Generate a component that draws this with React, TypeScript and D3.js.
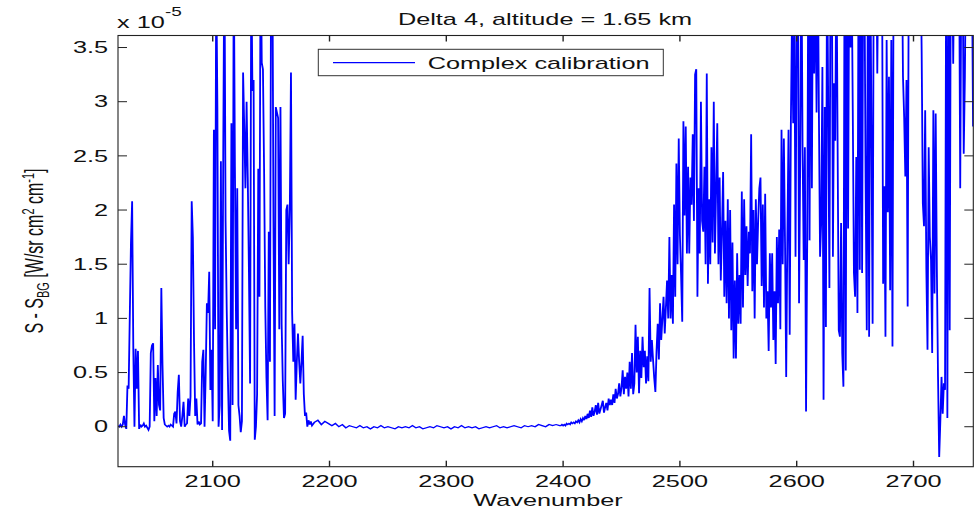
import React from "react";
import * as d3 from "d3";

// Spectrum values (x 1e-5 W/sr cm^2 cm^-1), by wavenumber segment
const startA = 2019;
const stepA = 1;
const valuesA = [
  0.01, 0.0, 0.02, 0.0, 0.02, 0.1, 0.02, -0.02, 0.38, 0.35,
  1.03, 1.7, 2.08, 0.72, 0.0, 0.72, 0.35, 0.7, -0.02, 0.02,
  0.0, 0.01, 0.03, 0.0, 0.01, -0.01, -0.03, 0.0, 0.68, 0.75,
  0.77, 0.05, 0.45, 0.1, 0.57, 0.2, 0.15, 1.28, 0.57, 0.08,
  0.02, 0.01, 0.0, 0.01, 0.0, 0.02, 0.01, 0.0, 0.12, 0.14,
  0.03, 0.32, 0.48, 0.05, 0.0, 0.1, 0.23, 0.0, 0.02, 0.03,
  0.26, 0.1, 0.28, 2.08, 1.75, 0.78, 0.1, 0.26, 0.02, 0.05,
  0.02, 0.03, 0.6, 0.71, 0.0, 0.5, 1.14, 1.05, 1.43, 0.34,
  0.71, 0.05, 2.74, 0.9, 4.2, 2.94, 0.0, 0.2, 2.45, -0.03,
  2.5, 4.5, 1.9, 1.07, 0.45, -0.04, -0.13, 2.8, 0.2, 4.4,
  2.4, 0.9, 2.2, 0.2, 0.1, -0.05, 0.05, 3.27, 2.76, 2.2,
  3.0, 2.3, 1.44, 0.4, 4.3, 3.1, 3.2, -0.12, 0.0, 0.3,
  2.38, 1.2, 4.5, 3.36, 3.3, 2.35, 1.1, 0.45, 0.06, 1.8,
  0.6, 4.4, 4.6, 1.9, 0.1, 2.95, 2.9, 2.85, 0.9, 2.95,
  0.95, 0.42, 0.08, 0.12, 2.0, 2.05, 1.5, 2.0, 3.27, 1.05,
  0.6, 0.95, 0.25, 0.6, 0.86, 0.6, 0.4, 0.6, 0.84, 0.3,
  0.1, 0.13, 0.0, 0.06, 0.02, 0.05, 0.01,
];

const startB = 2187;
const stepB = 3;
const valuesB = [
  0.04, 0.06, 0.02, 0.05, 0.03, 0.01, 0.03, 0.0, 0.02, -0.01,
  0.01, 0.0, -0.01, 0.01, -0.01, 0.0, -0.02, 0.0, -0.01, 0.01,
  -0.01, 0.0, -0.01, -0.02, 0.0, -0.01, 0.0, -0.01, 0.01, -0.01,
  0.0, -0.02, -0.01, 0.0, -0.01, 0.01, 0.0, -0.01, 0.0, -0.02,
  0.0, -0.01, 0.01, -0.01, 0.0, -0.01, 0.0, -0.02, -0.01, 0.0,
  -0.01, 0.0, 0.01, -0.01, 0.0, -0.01, 0.0, 0.01, 0.0, -0.01,
  0.01, 0.0, 0.01, 0.0, 0.02, 0.01, 0.0, 0.02, 0.01, 0.02,
  0.01,
];

const startC = 2398;
const stepC = 1;
const valuesC = [
  0.01, 0.02, 0.01,
  0.02, 0.01, 0.03, 0.02, 0.03, 0.02, 0.04, 0.03, 0.04, 0.03,
  0.05, 0.04, 0.06, 0.04, 0.07, 0.05, 0.08, 0.06, 0.1, 0.07,
  0.12, 0.08, 0.15, 0.09, 0.18, 0.1, 0.14, 0.2, 0.11, 0.22,
  0.12, 0.16, 0.2, 0.24, 0.13, 0.18, 0.22, 0.15, 0.26, 0.2,
  0.25, 0.2, 0.3, 0.22, 0.35, 0.26, 0.3, 0.4, 0.28, 0.36,
  0.52, 0.3, 0.46, 0.35, 0.5, 0.28, 0.6, 0.35, 0.68, 0.3,
  0.4, 0.94, 0.5, 0.83, 0.31, 0.7, 0.45, 0.83, 0.55, 0.7,
  0.4, 0.65, 0.42, 1.28, 0.6, 0.8, 0.62, 0.45, 0.32, 0.7,
  0.95, 0.62, 1.14, 0.8, 1.0, 1.2, 0.86, 1.1, 1.35, 1.0,
  1.75, 1.0, 1.4, 0.95, 2.05, 1.2, 2.43, 1.5, 2.66, 1.77,
];

const startD = 2501;
const stepD = 1;
const valuesD = [
  1.4, 0.97, 2.82, 1.95, 2.77, 1.6, 2.4, 1.6, 2.3, 2.05,
  2.7, 1.9, 3.25, 3.3, 1.2, 2.2, 1.6, 3.0, 1.9, 1.8,
  2.4, 1.5, 3.26, 1.32, 2.1, 1.5, 2.58, 1.7, 3.0, 1.6,
  2.2, 2.8, 1.5, 2.3, 1.35, 1.8, 2.35, 1.2, 1.9, 1.14,
  2.1, 1.0, 2.0, 0.89, 1.7, 0.63, 1.35, 0.63, 1.6, 0.95,
  1.4, 0.95, 2.17, 1.1, 2.1, 1.4, 1.85, 1.3, 1.8, 1.6,
  2.7, 1.25, 2.0, 1.0, 2.1, 1.5, 1.9, 2.2, 2.3, 1.3,
  2.05, 1.1, 2.15, 1.0, 1.25, 0.7, 1.6, 1.1, 1.6, 0.8,
  1.25, 0.58, 1.75, 1.14, 1.82, 0.9, 2.74, 1.5, 2.66, 1.7,
  0.46, 1.75, 2.74, 0.85, 2.8, 3.8, 2.8, 3.8, 1.57, 3.8,
];

const startE = 2601;
const stepE = 1;
const valuesE = [
  4.5, 1.14, 2.45, 4.5, 2.6, 1.54, 2.58, 0.14, 1.72, 4.5,
  1.72, 4.4, 2.2, 4.6, 3.26, 4.3, 2.9, 4.5, 2.9, 1.57,
  1.9, 3.32, 0.25, 2.95, 0.92, 4.5, 2.92, 1.28, 4.4, 4.6,
  1.57, 3.17, 2.64, 4.5, 2.64, 0.89, 0.83, 1.88, 0.68, 0.37,
  4.5, 0.52, 4.6, 1.83, 4.5, 3.5, 4.3, 2.92, 1.42, 1.2,
  2.49, 1.05, 4.5, 1.45, 4.4, 1.42, 4.6, 4.2, 2.25, 0.89,
  4.5, 0.83, 4.4, 2.69, 0.95, 4.5, 4.2, 4.6, 3.26, 4.5,
  4.3, 4.6, 4.5, 1.32, 2.22, 0.83, 3.57, 1.98, 3.23, 1.26,
  3.57, 0.74, 4.5, 4.4, 4.6, 4.3, 4.5, 4.4, 4.6, 4.5,
  3.23, 2.86, 2.31, 3.2, 1.11, 4.5, 4.4, 4.6, 4.3, 4.5,
  4.4, 4.6, 4.5, 4.3, 4.5, 4.4, 3.45, 2.06, 1.85, 2.92,
  1.45, 0.71, 2.58, 1.75, 1.54, 0.68, 2.92, 1.23, 2.89, 1.45,
  0.46, -0.28, 0.06, 0.46, 0.12, 0.4, 0.34, 4.5, 0.08, 4.4,
  0.89, 4.6, 4.5, 3.35, 4.5, 4.4, 4.6, 4.3, 4.5, 2.2,
  4.4, 4.6, 2.52, 3.23, 4.5, 4.3, 4.6, 4.4, 4.5, 4.3,
  2.77,
];

const xDomain = [2018.9, 2751.2];
const yDomain = [-0.369, 3.611];
const xTicks = [2100, 2200, 2300, 2400, 2500, 2600, 2700];
const yTicks = [0, 0.5, 1, 1.5, 2, 2.5, 3, 3.5];
const yTickLabels = ["0", "0.5", "1", "1.5", "2", "2.5", "3", "3.5"];
const titleText = "Delta 4, altitude = 1.65 km";
const seriesName = "Complex calibration";
const xLabelText = "Wavenumber";

const segments = [
  { start: startA, step: stepA, values: valuesA },
  { start: startB, step: stepB, values: valuesB },
  { start: startC, step: stepC, values: valuesC },
  { start: startD, step: stepD, values: valuesD },
  { start: startE, step: stepE, values: valuesE },
];

const FONT = "'Liberation Sans', Arial, Helvetica, sans-serif";
const SX = 1.58; // horizontal stretch of the original figure

export default function App() {
  const W = 975, H = 514;
  const L = 118, R = 973.3, T = 35.5, B = 466.7;
  const x = d3.scaleLinear().domain(xDomain).range([L, R]);
  const y = d3.scaleLinear().domain(yDomain).range([B, T]);

  const pts: [number, number][] = [];
  segments.forEach((s) => s.values.forEach((v, i) => pts.push([s.start + i * s.step, v])));
  // path drawn in an un-stretched frame, then stretched horizontally (gives wider vertical strokes)
  const linePath =
    d3.line<[number, number]>().x((d) => x(d[0]) / SX).y((d) => y(d[1]))(pts) || "";

  const txt = (tx: number, ty: number) => `translate(${tx},${ty}) scale(${SX},1)`;

  return (
    <div style={{ position: "absolute", left: 0, top: 0 }}>
      <svg width={W} height={H} style={{ display: "block", background: "#fff" }} fontFamily={FONT}>
        <defs>
          <clipPath id="plotclip">
            <rect x={L} y={T} width={R - L} height={B - T} />
          </clipPath>
        </defs>
        <rect x={0} y={0} width={W} height={H} fill="#fff" />
        <g clipPath="url(#plotclip)">
          <g transform={`scale(${SX},1)`}>
            <path d={linePath} fill="none" stroke="#0000ff" strokeWidth={1.15} strokeLinejoin="miter" />
          </g>
        </g>
        {/* axes box */}
        <rect x={L} y={T} width={R - L} height={B - T} fill="none" stroke="#222" strokeWidth={1.1} />
        {xTicks.map((t) => (
          <g key={"xt" + t}>
            <line x1={x(t)} x2={x(t)} y1={B} y2={B - 6} stroke="#222" strokeWidth={1.4} />
            <line x1={x(t)} x2={x(t)} y1={T} y2={T + 6} stroke="#222" strokeWidth={1.4} />
            <text transform={txt(x(t), 487)} textAnchor="middle" fontSize={16} fill="#111">{t}</text>
          </g>
        ))}
        {yTicks.map((t, i) => (
          <g key={"yt" + t}>
            <line x1={L} x2={L + 9} y1={y(t)} y2={y(t)} stroke="#222" strokeWidth={1} />
            <line x1={R} x2={R - 9} y1={y(t)} y2={y(t)} stroke="#222" strokeWidth={1} />
            <text transform={txt(108, y(t) + 5.7)} textAnchor="end" fontSize={16} fill="#111">{yTickLabels[i]}</text>
          </g>
        ))}
        {/* exponent */}
        <text transform={txt(117, 28)} fontSize={16} fill="#111">x 10</text>
        <text transform={txt(165, 16)} fontSize={12} fill="#111">-5</text>
        {/* title */}
        <text transform={txt(545, 25)} textAnchor="middle" fontSize={16} fill="#111">{titleText}</text>
        {/* x label */}
        <text transform={txt(548, 506)} textAnchor="middle" fontSize={16} fill="#111">{xLabelText}</text>
        {/* y label */}
        <text transform={`translate(43,251) scale(${SX},1) rotate(-90)`} textAnchor="middle" fontSize={16} fill="#111">
          <tspan>S - S</tspan>
          <tspan fontSize={11} dy={4}>BG</tspan>
          <tspan dy={-4}> [W/sr cm</tspan>
          <tspan fontSize={11} dy={-6}>2</tspan>
          <tspan dy={6}> cm</tspan>
          <tspan fontSize={11} dy={-6}>-1</tspan>
          <tspan dy={6}>]</tspan>
        </text>
        {/* legend */}
        <rect x={318.3} y={49.3} width={345} height={26.4} fill="#fff" stroke="#333" strokeWidth={1} />
        <line x1={333} x2={415} y1={62.7} y2={62.7} stroke="#0000ff" strokeWidth={1.2} />
        <text transform={txt(427.7, 68.5)} fontSize={16} fill="#111">{seriesName}</text>
      </svg>
    </div>
  );
}
